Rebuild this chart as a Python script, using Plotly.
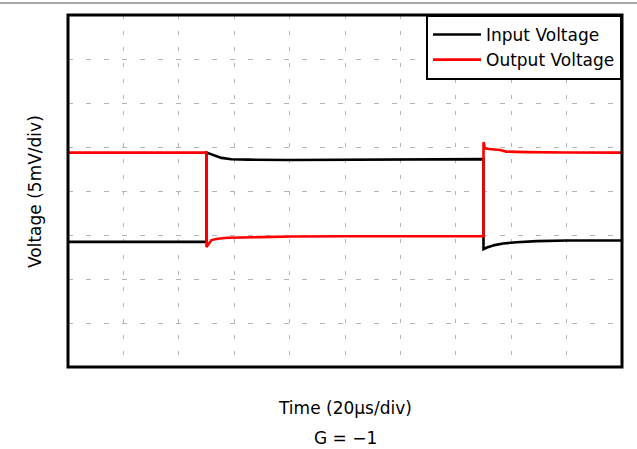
"""Inverting amplifier step response (G = -1), scope style chart"""

import plotly.graph_objects as go

# time in microseconds, voltage in mV
input_time = [0, 50, 50, 51, 53, 55.4, 59, 65, 80, 100, 130, 150, 150, 151, 154,
              157.1, 162, 169.3, 180.2, 200]
input_mv = [-5.78, -5.78, 4.36, 4.25, 3.99, 3.76, 3.61, 3.56, 3.53, 3.55, 3.6,
            3.62, -6.61, -6.45, -6.15, -5.96, -5.82, -5.70, -5.62, -5.62]

output_time = [0, 50, 50, 50.5, 51.8, 54, 57.7, 69.9, 80.7, 100, 130, 150, 150,
               150.5, 152, 156, 158.2, 165, 180, 200]
output_mv = [4.36, 4.36, -6.35, -6.1, -5.58, -5.42, -5.32, -5.24, -5.17, -5.15,
             -5.14, -5.13, 5.55, 4.85, 4.78, 4.65, 4.48, 4.42, 4.38, 4.36]

series_names = ["Input Voltage", "Output Voltage"]
series_colors = ["#000000", "#ff0000"]

x_title = "Time (20µs/div)"
y_title = "Voltage (5mV/div)"
gain_label = "G = \u22121"

FONT = "DejaVu Sans, Arial, sans-serif"


def build_figure() -> go.Figure:
    """Return the scope-like figure"""
    fig = go.Figure()
    for name, color, t, v in zip(
        series_names,
        series_colors,
        [input_time, output_time],
        [input_mv, output_mv],
    ):
        fig.add_trace(
            go.Scatter(x=t, y=v, name=name, mode="lines",
                       line=dict(color=color, width=2.6))
        )

    fig.update_layout(
        width=637,
        height=449,
        margin=dict(l=68, r=15, t=15, b=82),
        paper_bgcolor="white",
        plot_bgcolor="white",
        font=dict(family=FONT, size=17, color="black"),
        showlegend=True,
        legend=dict(
            x=1, y=1, xanchor="right", yanchor="top",
            bgcolor="white", bordercolor="black", borderwidth=2,
            font=dict(size=17), tracegroupgap=0, itemwidth=48,
        ),
        shapes=[
            dict(type="rect", xref="paper", yref="paper", x0=0, x1=1, y0=0, y1=1,
                 line=dict(color="black", width=3)),
            dict(type="line", xref="paper", yref="paper", x0=-0.13, x1=1.03,
                 y0=1.034, y1=1.034, line=dict(color="#8c8c8c", width=1.5)),
        ],
        annotations=[
            dict(text=x_title, xref="paper", yref="paper", x=0.5, y=-0.1165,
                 xanchor="center", yanchor="middle", showarrow=False),
            dict(text=gain_label, xref="paper", yref="paper", x=0.5, y=-0.2017,
                 xanchor="center", yanchor="middle", showarrow=False),
            dict(text=y_title, xref="paper", yref="paper", x=-0.0596, y=0.5,
                 xanchor="center", yanchor="middle", textangle=-90,
                 showarrow=False),
        ],
    )
    fig.update_xaxes(range=[0, 200], dtick=20, showticklabels=False, ticks="",
                     zeroline=False, showgrid=True, gridcolor="#b4b4b4",
                     gridwidth=1, griddash="4px,12px")
    fig.update_yaxes(range=[-20, 20], dtick=5, showticklabels=False, ticks="",
                     zeroline=False, showgrid=True, gridcolor="#b4b4b4",
                     gridwidth=1, griddash="5px,13px")
    return fig


fig = build_figure()
# the page body has an 8px margin by default; drop it so the figure sits at 0,0
fig.write_html(
    "out.html",
    config={"displayModeBar": False},
    post_script="document.body.style.margin = '0';",
)
